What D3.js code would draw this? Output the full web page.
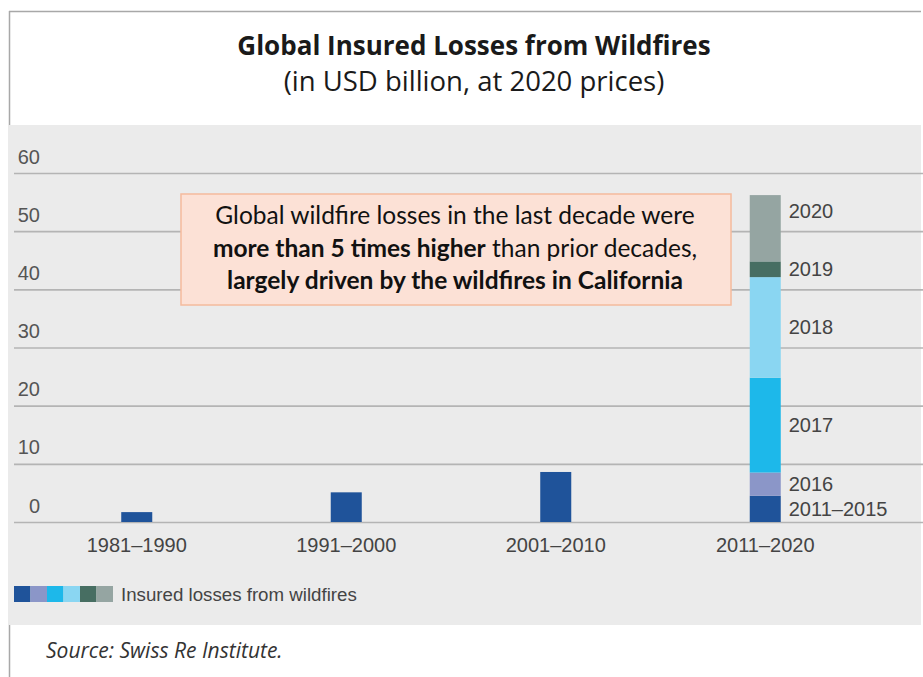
<!DOCTYPE html>
<html>
<head>
<meta charset="utf-8">
<script src="https://cdn.jsdelivr.net/npm/d3@7"></script>
<style>
  body { margin: 0; background: #fff; }
  svg { display: block; }
</style>
</head>
<body>
<div id="chart"></div>
<script>
// decades and their totals (USD bn, 2020 prices)
const decades = ["1981–1990", "1991–2000", "2001–2010", "2011–2020"];
const decadeTotals = [1.7, 5.1, 8.6, null];

// breakdown of the last decade
const segments = ["2011–2015", "2016", "2017", "2018", "2019", "2020"];
const segmentValues = [4.5, 4.0, 16.3, 17.3, 2.7, 11.4];
const segmentColors = ["#1f539a", "#8b96c8", "#1db8ea", "#8ad6f2", "#476e62", "#95a5a2"];

const yTicks = [0, 10, 20, 30, 40, 50, 60];

let width = 923,
    height = 677,
    margin = { top: 173, right: 0, bottom: 155, left: 14 };

const svg = d3
    .select("#chart")
    .append("svg")
    .attr("width", width)
    .attr("height", height);

// frame lines
svg.append("line")
    .attr("x1", 9.5).attr("x2", 9.5)
    .attr("y1", 11).attr("y2", height)
    .attr("stroke", "#a8a8a8").attr("stroke-width", 1.5);
svg.append("line")
    .attr("x1", 9).attr("x2", 921)
    .attr("y1", 11.5).attr("y2", 11.5)
    .attr("stroke", "#a8a8a8").attr("stroke-width", 1.5);

// grey panel
svg.append("rect")
    .attr("x", 8).attr("y", 125)
    .attr("width", 913).attr("height", 500)
    .attr("fill", "#ebebeb");

// titles
svg.append("text")
    .attr("x", 474).attr("y", 55)
    .attr("text-anchor", "middle")
    .style("font-family", "'Open Sans', sans-serif")
    .style("font-weight", "bold")
    .style("font-size", "26px")
    .style("fill", "#1a1a1a")
    .text("Global Insured Losses from Wildfires");
svg.append("text")
    .attr("x", 474).attr("y", 91)
    .attr("text-anchor", "middle")
    .style("font-family", "'Open Sans', sans-serif")
    .style("font-size", "27.5px")
    .style("fill", "#1a1a1a")
    .text("(in USD billion, at 2020 prices)");

let y = d3
    .scaleLinear()
    .domain([0, 60])
    .range([height - margin.bottom, margin.top]);

let x = d3
    .scaleBand()
    .domain(decades)
    .range([32, 870])
    .paddingInner(0.852)
    .paddingOuter(0.426);

// gridlines with labels sitting above them
const yAxis = svg.append("g")
    .attr("transform", `translate(${margin.left},0)`)
    .call(d3.axisLeft(y).tickValues(yTicks).tickSize(-(width - margin.left)).tickPadding(-26));
yAxis.select(".domain").remove();
yAxis.selectAll(".tick line").attr("stroke", "#b4b4b4").attr("stroke-width", 1.6);
yAxis.selectAll(".tick text")
    .attr("dy", "-0.5em")
    .style("font-family", "'Liberation Sans', Arial, sans-serif")
    .style("font-size", "20px")
    .style("fill", "#555");

// decade bars (first three)
svg.append("g")
    .selectAll("rect")
    .data(decades.filter((d, i) => decadeTotals[i] != null))
    .join("rect")
    .attr("x", (d) => x(d))
    .attr("width", x.bandwidth())
    .attr("y", (d) => y(decadeTotals[decades.indexOf(d)]))
    .attr("height", (d) => y(0) - y(decadeTotals[decades.indexOf(d)]))
    .attr("fill", "#1f539a");

// stacked bar for the last decade
const stacked = [];
let acc = 0;
segments.forEach((s, i) => {
    stacked.push({ name: s, y0: acc, y1: acc + segmentValues[i], color: segmentColors[i] });
    acc += segmentValues[i];
});
const lastX = x(decades[3]);
svg.append("g")
    .selectAll("rect")
    .data(stacked)
    .join("rect")
    .attr("x", lastX)
    .attr("width", x.bandwidth())
    .attr("y", (d) => y(d.y1))
    .attr("height", (d) => y(d.y0) - y(d.y1))
    .attr("fill", (d) => d.color);

// segment labels (top one nudged up)
const labelNudge = { "2020": -17 };
svg.append("g")
    .selectAll("text")
    .data(stacked)
    .join("text")
    .attr("x", lastX + x.bandwidth() + 8)
    .attr("y", (d) => (y(d.y0) + y(d.y1)) / 2 + (labelNudge[d.name] || 0))
    .attr("dy", "0.35em")
    .style("font-family", "'Liberation Sans', Arial, sans-serif")
    .style("font-size", "20px")
    .style("fill", "#444")
    .text((d) => d.name);

// category labels
const xAxis = svg.append("g")
    .attr("transform", `translate(0,${height - margin.bottom})`)
    .call(d3.axisBottom(x).tickSize(0).tickPadding(16));
xAxis.select(".domain").remove();
xAxis.selectAll(".tick text")
    .attr("dy", "0.71em")
    .style("font-family", "'Liberation Sans', Arial, sans-serif")
    .style("font-size", "20px")
    .style("fill", "#444");

// annotation box
svg.append("rect")
    .attr("x", 181).attr("y", 194)
    .attr("width", 550).attr("height", 111)
    .attr("fill", "#fce1d6")
    .attr("stroke", "#f5bb9d")
    .attr("stroke-width", 1.5);
const note = svg.append("text")
    .attr("text-anchor", "middle")
    .style("font-family", "Lato, sans-serif")
    .style("font-size", "24.5px")
    .style("fill", "#111");
note.append("tspan").attr("x", 455).attr("y", 224).text("Global wildfire losses in the last decade were");
const l2 = note.append("tspan").attr("x", 455).attr("y", 257);
l2.append("tspan").style("font-weight", "bold").text("more than 5 times higher");
l2.append("tspan").text(" than prior decades,");
note.append("tspan").attr("x", 455).attr("y", 289).style("font-weight", "bold")
    .text("largely driven by the wildfires in California");

// legend
const legendColors = segmentColors;
svg.append("g")
    .selectAll("rect")
    .data(legendColors)
    .join("rect")
    .attr("x", (d, i) => 14 + i * 16.5)
    .attr("y", 586)
    .attr("width", 16.5)
    .attr("height", 16)
    .attr("fill", (d) => d);
svg.append("text")
    .attr("x", 121).attr("y", 601)
    .style("font-family", "'Liberation Sans', Arial, sans-serif")
    .style("font-size", "18.7px")
    .style("fill", "#444")
    .text("Insured losses from wildfires");

// source
svg.append("text")
    .attr("x", 46).attr("y", 658)
    .style("font-family", "'Open Sans', sans-serif")
    .style("font-style", "italic")
    .style("font-size", "21px")
    .style("fill", "#333")
    .text("Source: Swiss Re Institute.");
</script>
</body>
</html>
